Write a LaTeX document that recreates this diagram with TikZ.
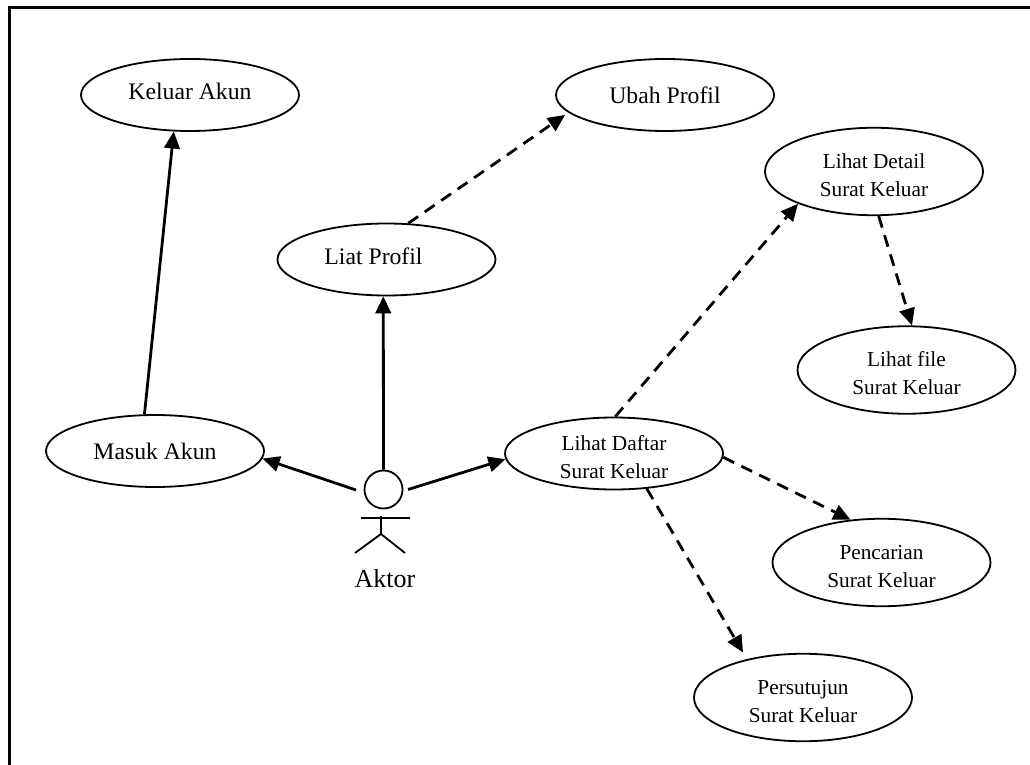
\documentclass[tikz,border=0pt]{standalone}
\usepackage{fontspec}
\setmainfont{Liberation Serif}
\usetikzlibrary{arrows.meta,shapes.geometric}
\newcommand{\tinggi}{\rule{0pt}{22pt}}
\tikzset{
	kasus/.style={draw,ellipse,line width=1.8pt,minimum width=218pt,minimum height=72pt,inner sep=0pt,align=center,text depth=7pt,font=\fontsize{23.7}{28}\selectfont},
	kasustengah/.style={kasus,text depth=},
	kasuskecil/.style={kasus,text depth=,font=\fontsize{21.3}{28}\selectfont},
	kasustinggi/.style={kasuskecil,minimum height=87.5pt},
	garis/.style={line width=1.8pt},
	panah/.style={line width=2.8pt,-{Triangle[length=17pt,width=15.5pt]}},
	panahputus/.style={panah,dash pattern=on 12pt off 8pt},
}
\begin{document}
\begin{tikzpicture}[x=1pt,y=-1pt]
	\useasboundingbox (0,0) rectangle (1030,765);
	\draw[line width=2.5pt] (9.3,765) -- (9.3,7.3) -- (1030,7.3);

	\node[kasus] (keluar) at (190,95) {Keluar Akun};
	\node[kasustengah] (ubah) at (665,95) {Ubah Profil};
	\node[kasus] (liat) at (386.5,259.5) {Liat Profil\hspace{26pt}};
	\node[kasustengah] (masuk) at (155,451) {Masuk Akun};
	\node[kasustinggi] (detail) at (874,171.5) {\tinggi Lihat Detail\\Surat Keluar};
	\node[kasustinggi] (file) at (906.5,370) {\tinggi Lihat file\\Surat Keluar};
	\node[kasuskecil] (daftar) at (614,453.5) {\tinggi Lihat Daftar\\Surat Keluar};
	\node[kasustinggi] (cari) at (881.5,562.5) {\tinggi Pencarian\\Surat Keluar};
	\node[kasustinggi] (setuju) at (803,697.5) {\tinggi Persutujun\\Surat Keluar};

	\node[draw,circle,garis,minimum size=38pt,inner sep=0pt] (aktor) at (383.5,489.5) {};
	\node[font=\fontsize{26}{30}\selectfont] (nama) at (385,579) {Aktor};
	\coordinate (kiri) at (356,490);
	\coordinate (kanan) at (408,489.5);
	\coordinate (pinggul) at (381,534);
	\draw[garis] (361,518) -- (410,518);
	\draw[garis] (381,516) -- (pinggul);
	\draw[garis] (355,553) -- (pinggul) -- (405,553);

	\draw[panah] (masuk.106) -- (keluar.246);
	\draw[panah] (aktor.north) -- (liat.265.5);
	\draw[panah] (kiri) -- (masuk.356);
	\draw[panah] (kanan) -- (daftar.183);

	\draw[panahputus] (liat.59) -- ([xshift=-100pt,yshift=-20pt]ubah.center);
	\draw[panahputus] (daftar.88) -- (detail.203);
	\draw[panahputus] (detail.276) -- (file.83);
	\draw[panahputus] (daftar.358) -- (cari.126);
	\draw[panahputus] (daftar.313) -- ([xshift=-60pt,yshift=45pt]setuju.center);
\end{tikzpicture}
\end{document}
